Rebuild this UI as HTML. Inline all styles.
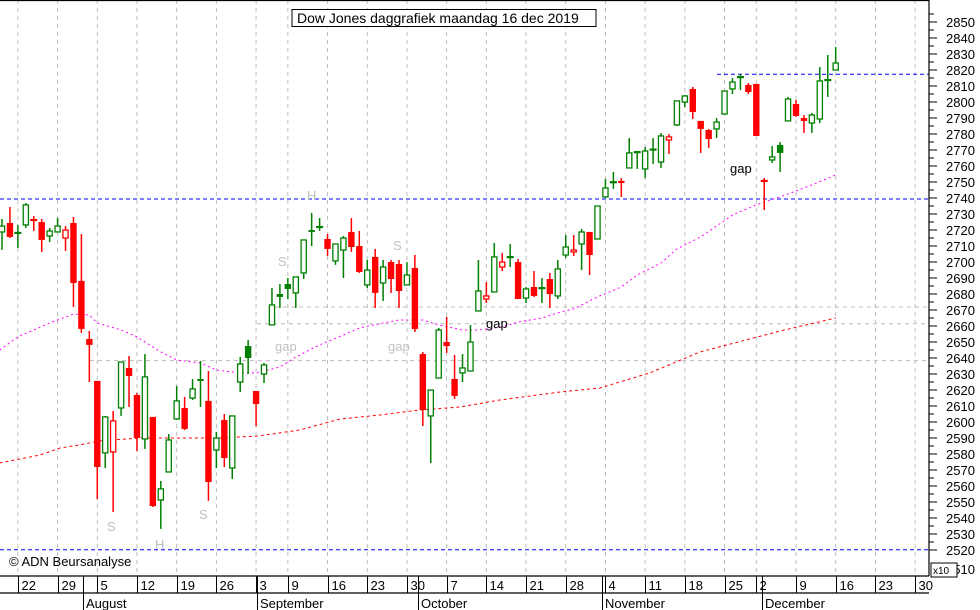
<!DOCTYPE html>
<html><head><meta charset="utf-8"><style>
html,body{margin:0;padding:0;background:#fff;}
svg{display:block;font-family:"Liberation Sans",sans-serif;}
</style></head><body>
<svg id="chart" width="980" height="610" viewBox="0 0 980 610" xmlns="http://www.w3.org/2000/svg">
<rect x="0" y="0" width="980" height="610" fill="#fff"/>
<g id="grid"></g><g id="ma"></g><g id="candles"></g><g id="anno"></g><g id="axes"></g>
</svg>
<script>
const opens=[2719.4,2725.0,2718.8,2723.8,2726.9,2725.6,2716.9,2719.4,2715.6,2725.0,2688.8,2652.5,2626.3,2581.3,2581.9,2609.4,2634.4,2617.5,2590.0,2603.8,2551.9,2569.4,2602.5,2609.4,2615.6,2627.5,2613.8,2583.1,2601.9,2571.9,2625.6,2648.1,2620.0,2630.6,2661.3,2680.6,2686.9,2681.3,2693.8,2720.6,2722.5,2715.0,2701.3,2708.1,2719.4,2710.6,2686.3,2703.8,2687.5,2700.6,2699.4,2686.3,2696.9,2643.1,2604.4,2628.1,2650.6,2627.5,2631.3,2632.5,2670.0,2677.5,2681.9,2697.5,2703.7,2700.6,2678.1,2685.0,2684.3,2690.0,2679.4,2705.0,2706.9,2711.9,2719.4,2715.0,2741.3,2750.5,2751.3,2759.4,2769.3,2758.8,2771.3,2763.1,2776.9,2786.3,2800.6,2808.8,2788.8,2783.1,2783.8,2793.1,2808.8,2816.2,2811.3,2811.9,2751.4,2764.4,2773.8,2788.8,2799.4,2790.6,2787.5,2790.0,2814.7,2820.6];
const highs=[2727.5,2735.0,2723.8,2737.5,2729.4,2727.5,2721.9,2728.2,2723.1,2728.8,2718.1,2657.5,2626.3,2604.4,2607.5,2638.1,2641.9,2618.8,2643.1,2603.8,2563.8,2593.1,2623.1,2616.3,2627.5,2638.8,2632.5,2594.4,2605.6,2604.4,2641.3,2651.9,2620.0,2637.5,2684.4,2686.9,2690.6,2691.3,2714.4,2731.3,2728.1,2718.1,2711.9,2716.9,2728.1,2720.0,2701.9,2708.8,2701.9,2701.9,2701.9,2700.6,2705.0,2644.4,2620.6,2659.4,2666.3,2642.5,2643.1,2661.3,2701.9,2688.1,2712.5,2706.3,2711.9,2702.5,2685.0,2695.0,2690.6,2693.8,2701.9,2717.5,2717.5,2721.3,2719.4,2735.6,2752.5,2756.9,2753.1,2778.1,2770.0,2772.5,2778.1,2781.3,2780.6,2801.3,2805.0,2810.0,2788.8,2783.8,2790.6,2807.5,2815.6,2818.1,2812.5,2811.9,2753.1,2773.1,2775.6,2803.8,2801.9,2792.5,2793.8,2822.5,2830.0,2835.0];
const lows=[2708.2,2715.6,2709.4,2721.9,2720.0,2706.9,2713.1,2719.4,2707.5,2672.5,2656.3,2625.6,2552.5,2571.9,2544.4,2604.4,2610.0,2582.5,2583.8,2547.5,2533.8,2569.4,2601.9,2595.6,2614.4,2610.0,2551.3,2571.9,2572.5,2565.0,2619.4,2630.6,2598.1,2625.0,2661.3,2671.9,2677.5,2671.9,2690.0,2710.6,2720.0,2704.4,2698.8,2690.6,2706.9,2693.8,2684.4,2671.9,2676.3,2681.3,2671.9,2686.3,2656.9,2598.1,2575.0,2628.1,2643.8,2615.0,2625.6,2632.5,2670.0,2675.0,2681.9,2695.0,2697.5,2677.5,2675.0,2678.8,2675.0,2671.9,2677.5,2703.1,2704.4,2695.6,2692.5,2715.0,2740.6,2746.3,2741.3,2759.4,2758.8,2753.1,2761.9,2759.4,2768.1,2785.6,2797.5,2790.0,2768.8,2771.9,2778.1,2793.1,2805.6,2808.1,2805.6,2779.4,2733.1,2762.5,2756.9,2788.8,2791.3,2781.3,2781.3,2787.5,2803.8,2820.6];
const closes=[2723.1,2716.3,2718.9,2736.3,2726.9,2714.4,2720.0,2723.1,2720.6,2687.5,2658.8,2648.8,2572.5,2603.8,2601.3,2638.1,2629.4,2590.6,2628.8,2548.1,2558.8,2589.4,2613.8,2596.3,2621.3,2626.3,2563.1,2590.6,2578.1,2604.4,2636.9,2640.6,2611.9,2636.3,2673.8,2678.8,2683.8,2691.3,2714.4,2719.4,2722.6,2708.8,2711.9,2715.6,2710.0,2694.4,2695.6,2681.3,2697.5,2690.0,2682.5,2692.5,2658.8,2608.1,2620.6,2658.1,2648.1,2616.9,2634.4,2650.6,2682.5,2679.4,2703.8,2700.6,2703.8,2677.5,2683.8,2679.4,2684.4,2680.6,2696.3,2710.0,2708.1,2719.4,2705.0,2735.6,2746.9,2750.6,2750.0,2768.8,2769.4,2770.0,2770.6,2779.4,2778.8,2801.3,2804.4,2794.4,2783.8,2777.5,2788.1,2807.5,2813.1,2816.3,2806.9,2779.4,2751.3,2766.3,2768.8,2802.5,2791.9,2788.8,2792.5,2813.8,2814.1,2825.0];
const ma50Idx=[-0.3,2,6,9,11,12,15,17,20,22,25,27,30,32,35,37,40,43,45,48,50,53,55,58,60,63,65,68,70,72,75,78,80,83,85,88,90,92,95,99,102,105];
const ma50=[2645.6,2653.8,2662.5,2668.1,2667.5,2662.5,2658.1,2653.8,2644.4,2639.4,2637.5,2633.1,2631.3,2631.3,2635.0,2641.3,2648.8,2655.0,2659.4,2662.5,2664.4,2664.4,2661.3,2658.1,2658.1,2660.0,2663.1,2665.6,2668.8,2671.3,2678.8,2685.0,2692.5,2700.0,2708.8,2716.3,2723.1,2730.0,2736.3,2743.1,2748.8,2755.0];
const ma200Idx=[-0.3,4.8,7.3,9.8,12.3,17.4,27.5,32.2,37.5,42.6,47.6,52.6,57.7,62.7,70.3,75.3,81.6,87.9,98,105];
const ma200=[2575.0,2580.0,2584.4,2586.3,2588.8,2590.6,2590.6,2591.9,2595.6,2602.5,2605.0,2608.1,2610.0,2614.4,2619.4,2621.9,2631.3,2644.4,2657.5,2665.6];
const yTicks=[2520,2530,2540,2550,2560,2570,2580,2590,2600,2610,2620,2630,2640,2650,2660,2670,2680,2690,2700,2710,2720,2730,2740,2750,2760,2770,2780,2790,2800,2810,2820,2830,2840,2850];
const weekIdx=[2,7,12,17,22,27,32,36,41,46,51,56,61,66,71,76,81,86,91,95,100,105,110,115];
const weekLabels=["22","29","5","12","19","26","3","9","16","23","30","7","14","21","28","4","11","18","25","2","9","16","23","30"];
const monthNames=["August","September","October","November","December"];
const monthPos=[83,257,418,602,762];

const NS="http://www.w3.org/2000/svg";
const PR=929, PB=576;
function xS(i){return 2+i*7.94;}
function yS(v){return 23+(2850-v)*1.6;}
function mk(tag,attrs,parent,text){const e=document.createElementNS(NS,tag);for(const k in attrs)e.setAttribute(k,attrs[k]);if(text!==undefined)e.textContent=text;parent.appendChild(e);return e;}
const grid=document.getElementById('grid'),maG=document.getElementById('ma'),cg=document.getElementById('candles'),an=document.getElementById('anno'),ax=document.getElementById('axes');

// vertical gridlines
weekIdx.forEach((k,i)=>{const x=xS(k);if(x>PR)return;
 const l=mk('line',{x1:x,y1:0,x2:x,y2:PB,stroke:'#bdbdbd','stroke-width':1,'stroke-dasharray':'4,4'},grid);
 
 });
// horizontal gray gap lines
[[90,2639],[257,2662],[275,2672.5]].forEach(p=>{
 const l=mk('line',{x1:p[0],y1:yS(p[1]),x2:PR,y2:yS(p[1]),stroke:'#bdbdbd','stroke-width':1,'stroke-dasharray':'4,4'},grid);
 
 });
// blue lines
[[0,2740],[0,2520.8],[717,2818]].forEach(p=>{
 const l=mk('line',{x1:p[0],y1:yS(p[1]),x2:PR,y2:yS(p[1]),stroke:'#0000ff','stroke-width':1,'stroke-dasharray':'4,3'},grid);
 
 });

// moving averages
function ptsOf(idx,vals){return idx.map((k,i)=>xS(k).toFixed(1)+','+yS(vals[i]).toFixed(1)).join(' ');}
const m50=mk('polyline',{points:ptsOf(ma50Idx,ma50),fill:'none',stroke:'#ff00ff','stroke-width':1,'stroke-dasharray':'2,3'},maG);


const m200=mk('polyline',{points:ptsOf(ma200Idx,ma200),fill:'none',stroke:'#ff0000','stroke-width':1,'stroke-dasharray':'3,3'},maG);



// candles
for(let i=0;i<opens.length;i++){
 const o=opens[i],h=highs[i],l=lows[i],c=closes[i];
 const prev=i>0?closes[i-1]:o;
 const col=c>=prev?'#008000':'#ff0000';
 const x=xS(i);
 const g=mk('g',{},cg);
 
 
 mk('line',{x1:x,y1:yS(h),x2:x,y2:yS(l),stroke:col,'stroke-width':1.5},g);
 const yt=yS(Math.max(o,c)),yb=yS(Math.min(o,c));
 if(yb-yt<1.5){
  mk('rect',{x:x-3.5,y:(yt+yb)/2-1,width:7,height:2.2,fill:col},g);
 }else if(c<o){
  mk('rect',{x:x-3.2,y:yt,width:6.4,height:yb-yt,fill:col},g);
 }else{
  mk('rect',{x:x-2.6,y:yt,width:5.2,height:yb-yt,fill:'#fff',stroke:col,'stroke-width':1.3},g);
 }
}

// annotations
function label(x,y,t,fill,name,size){const e=mk('text',{x:x,y:y,fill:fill,'font-size':size||13},an,t);
 
 return e;}
label(275,351,'gap','#c0c0c0','gap-label');
label(388,351,'gap','#c0c0c0','gap-label');
label(486,328,'gap','#000','gap-label');
label(730,173,'gap','#000','gap-label');
label(307,200,'H','#c0c0c0','head-label');
label(278,266,'S','#c0c0c0','shoulder-label');
label(393,250,'S','#c0c0c0','shoulder-label');
label(107,531,'S','#c0c0c0','shoulder-label');
label(155,549,'H','#c0c0c0','head-label');
label(199,519,'S','#c0c0c0','shoulder-label');
label(9,566,'© ADN Beursanalyse','#000','copyright-text');
const tb=mk('rect',{x:292,y:9.5,width:304,height:17,fill:'#fff',stroke:'#000','stroke-width':1},an);


label(297,23,'Dow Jones daggrafiek maandag 16 dec 2019','#000','chart-title',14);

// axes
const frame=[[0,0.5,PR,0.5],[PR,0,PR,PB],[0,PB,PR,PB],[0,593,PR,593]];
frame.forEach(f=>{const l=mk('line',{x1:f[0],y1:f[1],x2:f[2],y2:f[3],stroke:'#000','stroke-width':1.2},ax);
 
 });
yTicks.forEach(v=>{const y=yS(v)-1;
 const t=mk('line',{x1:PR,y1:y,x2:PR+8,y2:y,stroke:'#000','stroke-width':1},ax);
 
 
 const m=mk('line',{x1:PR,y1:y-8,x2:PR+5,y2:y-8,stroke:'#000','stroke-width':1},ax);
 
 
 const tx=mk('text',{x:946,y:y+5,'font-size':13,fill:'#000'},ax,String(v));
 
 });
const yb=mk('text',{x:946,y:574,'font-size':13,fill:'#000'},ax,'2510');


const xb=mk('rect',{x:931,y:563,width:26,height:14,fill:'#fff',stroke:'#000','stroke-width':1},ax);


const xt=mk('text',{x:933,y:574,'font-size':10,fill:'#000'},ax,'x10');


weekIdx.forEach((k,i)=>{const x=Math.round(xS(k))+0.5;
 const s=mk('line',{x1:x,y1:PB,x2:x,y2:593,stroke:'#000','stroke-width':1},ax);
 
 
 const t=mk('text',{x:x+3,y:590,'font-size':13,fill:'#000'},ax,weekLabels[i]);
 
 });
monthPos.forEach((x,i)=>{
 const s=mk('line',{x1:x+0.5,y1:PB,x2:x+0.5,y2:610,stroke:'#000','stroke-width':1},ax);
 
 
 const t=mk('text',{x:x+3,y:608,'font-size':13,fill:'#000'},ax,monthNames[i]);
 
 });
</script>
</body></html>
